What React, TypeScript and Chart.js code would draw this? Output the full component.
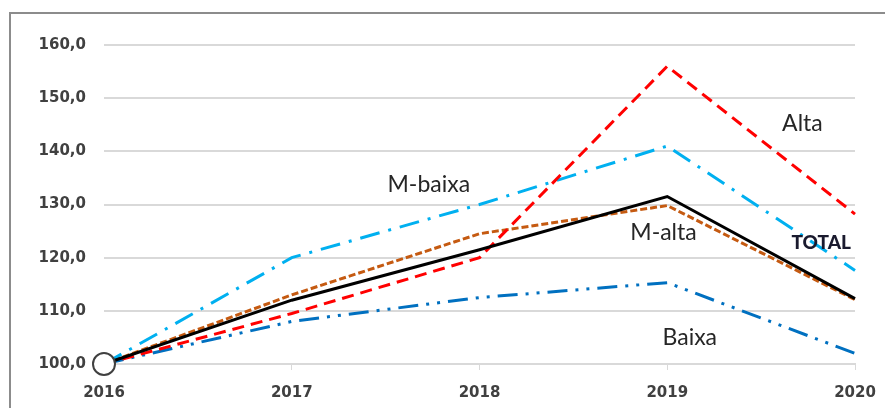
import React, { useEffect, useRef } from "react";
import { Chart, registerables } from "chart.js";

Chart.register(...registerables);

const years = ["2016", "2017", "2018", "2019", "2020"];
const total = [100, 112, 121.5, 131.5, 112.3];
const alta = [100, 109.5, 120, 156, 128.2];
const mBaixa = [100, 120, 130, 141, 117.6];
const mAlta = [100, 113, 124.5, 129.8, 112.1];
const baixa = [100, 108, 112.5, 115.3, 102];
const yTicks = [100, 110, 120, 130, 140, 150, 160];

// annotation labels: text, category index position, value position, bold
const labelTexts = ["Alta", "M-baixa", "M-alta", "TOTAL", "Baixa"];
const labelX = [3.72, 1.73, 2.98, 3.82, 3.12];
const labelY = [145.2, 133.8, 124.7, 122.8, 104.9];
const labelBold = [false, false, false, true, false];

const labelPlugin = {
  id: "seriesLabels",
  afterDatasetsDraw(chart: any) {
    const { ctx, scales } = chart;
    const xs = scales.x;
    const ys = scales.y;
    ctx.save();
    ctx.textAlign = "center";
    ctx.textBaseline = "middle";
    labelTexts.forEach((t, i) => {
      const base = Math.floor(labelX[i]);
      const x0 = xs.getPixelForValue(base);
      const x1 = xs.getPixelForValue(base + 1);
      const px = x0 + (x1 - x0) * (labelX[i] - base);
      const py = ys.getPixelForValue(labelY[i]);
      ctx.fillStyle = labelBold[i] ? "#1a1a2e" : "#262626";
      ctx.font = labelBold[i]
        ? "900 19px Lato, 'Open Sans', sans-serif"
        : "23px Lato, 'Open Sans', sans-serif";
      ctx.fillText(t, px, py);
    });
    ctx.restore();
  },
};

export default function App() {
  const ref = useRef<HTMLCanvasElement>(null);
  useEffect(() => {
    if (!ref.current) return;
    const tickFont = { family: "'DejaVu Sans', sans-serif", size: 15, weight: "bold" as const };
    const chart = new Chart(ref.current, {
      type: "line",
      data: {
        labels: years,
        datasets: [
          {
            label: "TOTAL",
            data: total,
            borderColor: "#000000",
            borderWidth: 3,
            clip: false as any,
            pointRadius: [11, 0, 0, 0, 0],
            pointBackgroundColor: "#ffffff",
            pointBorderColor: "#404040",
            pointBorderWidth: 2,
          },
          {
            label: "Alta",
            data: alta,
            borderColor: "#FF0000",
            borderWidth: 3,
            borderDash: [12, 7],
            pointRadius: 0,
          },
          {
            label: "M-baixa",
            data: mBaixa,
            borderColor: "#00B0F0",
            borderWidth: 3,
            borderDash: [20, 9, 3, 9],
            pointRadius: 0,
          },
          {
            label: "Baixa",
            data: baixa,
            borderColor: "#0070C0",
            borderWidth: 3,
            borderDash: [20, 8, 3, 8, 3, 8],
            pointRadius: 0,
          },
          {
            label: "M-alta",
            data: mAlta,
            borderColor: "#C55A11",
            borderWidth: 3,
            borderDash: [7, 3],
            pointRadius: 0,
          },
        ],
      },
      options: {
        animation: false,
        responsive: false,
        layout: { padding: { left: 1, right: 30, top: 45, bottom: 0 } },
        plugins: { legend: { display: false }, tooltip: { enabled: false } },
        scales: {
          x: {
            offset: false,
            grid: {
              drawOnChartArea: false,
              drawTicks: true,
              tickLength: 6,
              color: "#d9d9d9",
            },
            border: { display: true, color: "#d9d9d9", width: 2 },
            ticks: {
              color: "#404040",
              font: tickFont,
              padding: 14,
              maxRotation: 0,
            },
            afterFit(scale: any) {
              scale.height = 44;
              scale.paddingLeft = 0;
              scale.paddingRight = 0;
            },
          },
          y: {
            min: 100,
            max: 160,
            afterBuildTicks(scale: any) {
              scale.ticks = yTicks.map((v) => ({ value: v }));
            },
            grid: { color: "#d9d9d9", lineWidth: 2, drawTicks: false },
            border: { display: false },
            ticks: {
              color: "#404040",
              padding: 18,
              font: tickFont,
              callback: (v: any) => Number(v).toFixed(1).replace(".", ","),
            },
            afterFit(scale: any) {
              scale.width = 103;
              scale.paddingTop = 0;
              scale.paddingBottom = 0;
            },
          },
        },
      },
      plugins: [labelPlugin],
    });
    return () => chart.destroy();
  }, []);

  return (
    <div style={{ position: "fixed", left: 0, top: 0, width: 885, height: 408, background: "#fff" }}>
      <div
        style={{
          position: "absolute",
          left: 9,
          top: 12,
          right: -2,
          bottom: -2,
          borderLeft: "2px solid #8c8c8c",
          borderTop: "2px solid #8c8c8c",
        }}
      />
      <canvas ref={ref} width={885} height={408} style={{ position: "absolute", left: 0, top: 0 }} />
    </div>
  );
}
